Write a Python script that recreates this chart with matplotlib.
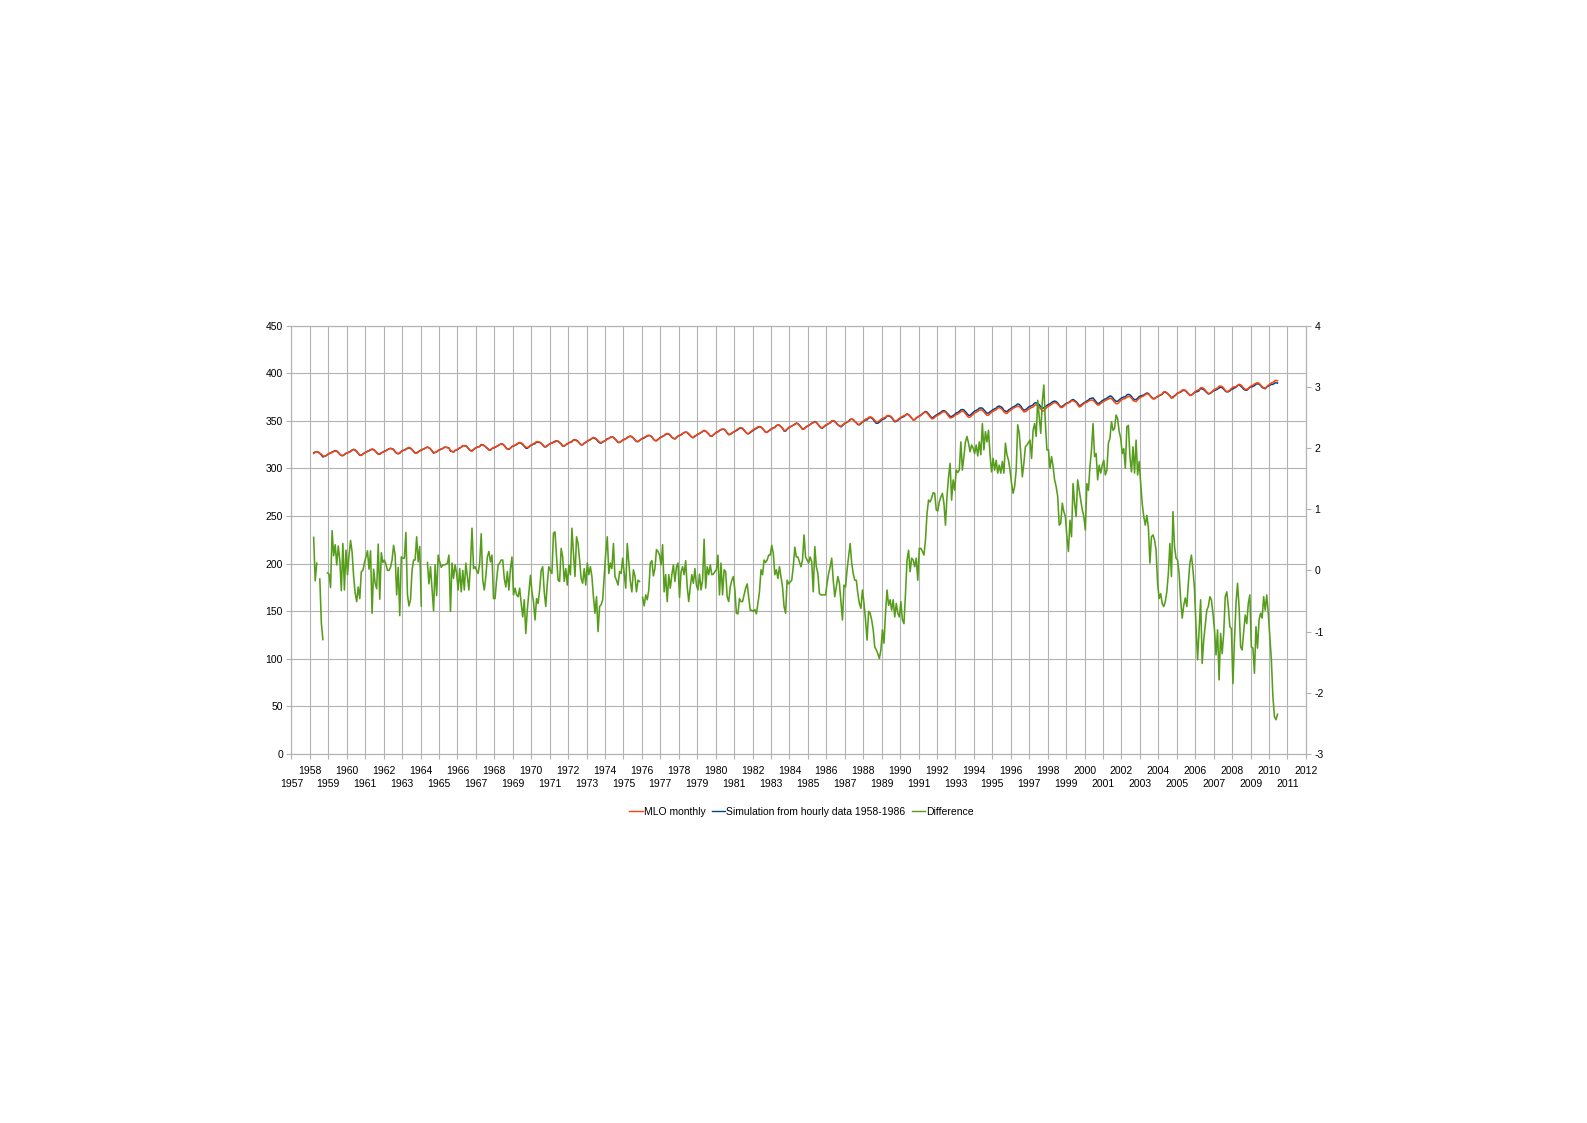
import numpy as np
import matplotlib
matplotlib.use('Agg')
import matplotlib.pyplot as plt

plt.rcParams['font.family'] = ['Liberation Sans', 'DejaVu Sans']
plt.rcParams['axes.unicode_minus'] = False

nan = np.nan

# monthly series, first value = March 1958
first_year, first_month = 1958, 3

mlo_monthly = [
    315.71, 317.45, 317.50, 317.10, 315.86, 314.93, 313.20, 312.66, 313.33, 314.67,
    315.62, 316.38, 316.71, 317.72, 318.29, 318.15, 316.54, 314.80, 313.84, 313.26, 314.80, 315.58,
    316.43, 316.97, 317.58, 319.02, 320.03, 319.59, 318.18, 315.91, 314.16, 313.83, 315.00, 316.19,
    316.93, 317.70, 318.54, 319.48, 320.58, 319.77, 318.57, 316.79, 314.80, 315.38, 316.10, 317.01,
    317.94, 318.56, 319.68, 320.63, 321.01, 320.55, 319.58, 317.40, 316.26, 315.42, 316.69, 317.69,
    318.74, 319.08, 319.86, 321.39, 322.25, 321.47, 319.74, 317.77, 316.21, 315.99, 317.12, 318.31,
    319.57, 320.07, 320.73, 321.77, 322.25, 321.89, 320.44, 318.70, 316.70, 316.79, 317.79, 318.71,
    319.44, 320.44, 320.89, 322.13, 322.16, 321.87, 321.39, 318.81, 317.81, 317.30, 318.87, 319.42,
    320.62, 321.59, 322.39, 323.87, 324.01, 323.75, 322.39, 320.37, 318.64, 318.10, 319.79, 321.08,
    322.07, 322.50, 323.04, 324.42, 325.00, 324.09, 322.55, 320.92, 319.31, 319.31, 320.72, 321.96,
    322.57, 323.15, 323.89, 325.02, 325.57, 325.36, 324.14, 322.03, 320.41, 320.25, 321.31, 322.84,
    324.00, 324.42, 325.64, 326.66, 327.34, 326.76, 325.88, 323.67, 322.38, 321.78, 322.85, 324.11,
    325.03, 325.99, 326.87, 328.13, 328.07, 327.66, 326.35, 324.69, 323.10, 323.16, 323.98, 325.13,
    326.17, 326.68, 327.18, 327.78, 328.92, 328.57, 327.34, 325.46, 323.36, 323.57, 324.80, 326.01,
    326.77, 327.63, 327.75, 329.72, 330.07, 329.09, 328.05, 326.32, 324.93, 325.06, 326.50, 327.55,
    328.54, 329.56, 330.30, 331.50, 332.48, 332.07, 330.87, 329.31, 327.51, 327.18, 328.16, 328.64,
    329.35, 330.71, 331.48, 332.65, 333.09, 332.25, 331.18, 329.40, 327.44, 327.37, 328.46, 329.58,
    330.40, 331.40, 332.04, 333.31, 333.96, 333.59, 331.91, 330.06, 328.56, 328.34, 329.49, 330.76,
    331.75, 332.56, 333.50, 334.58, 334.87, 334.34, 333.05, 330.94, 329.30, 328.94, 330.31, 331.68,
    332.93, 333.42, 334.70, 336.07, 336.74, 336.27, 334.93, 332.75, 331.58, 331.16, 332.40, 333.85,
    334.97, 335.39, 336.64, 337.76, 338.01, 337.89, 336.54, 334.68, 332.76, 332.54, 333.92, 334.95,
    336.23, 336.76, 337.96, 338.89, 339.47, 339.29, 337.73, 336.09, 333.91, 333.86, 335.29, 336.73,
    338.01, 338.36, 340.08, 340.77, 341.46, 341.17, 339.56, 337.60, 335.88, 336.01, 337.10, 338.21,
    339.23, 340.47, 341.38, 342.51, 342.91, 342.25, 340.49, 338.43, 336.69, 336.85, 338.36, 339.61,
    340.75, 341.61, 342.70, 343.56, 344.13, 343.35, 342.06, 339.82, 337.97, 337.86, 339.26, 340.49,
    341.38, 342.52, 343.10, 344.94, 345.75, 345.32, 343.99, 342.39, 339.86, 339.99, 341.16, 342.99,
    343.82, 344.63, 345.38, 346.11, 347.42, 346.80, 345.39, 343.28, 341.07, 341.35, 342.98, 344.22,
    344.97, 345.99, 347.42, 348.35, 348.93, 348.25, 346.56, 344.69, 343.09, 342.80, 344.24, 345.56,
    346.29, 346.96, 347.86, 349.55, 350.21, 349.54, 347.94, 345.91, 344.86, 344.17, 345.66, 346.90,
    348.02, 348.47, 349.42, 350.99, 351.84, 351.25, 349.52, 348.10, 346.44, 346.36, 347.81, 348.96,
    350.43, 351.72, 352.22, 353.59, 354.22, 353.79, 352.39, 350.44, 348.72, 348.88, 350.07, 351.34,
    352.76, 353.07, 353.68, 355.42, 355.67, 355.13, 353.90, 351.67, 349.80, 349.99, 351.30, 352.53,
    353.66, 354.70, 355.39, 356.20, 357.16, 356.22, 354.82, 352.91, 350.96, 351.18, 352.83, 354.21,
    354.72, 355.75, 357.16, 358.60, 359.34, 358.24, 356.17, 354.03, 352.16, 352.21, 353.75, 354.99,
    355.98, 356.72, 357.81, 359.15, 359.66, 359.25, 357.03, 355.00, 353.01, 353.31, 354.16, 355.40,
    356.70, 357.17, 358.38, 359.46, 360.28, 359.60, 357.57, 355.52, 353.70, 353.98, 355.33, 356.80,
    358.36, 358.91, 359.97, 361.26, 361.68, 360.95, 359.55, 357.49, 355.84, 355.99, 357.58, 359.04,
    359.96, 361.00, 361.64, 363.45, 363.79, 363.26, 361.90, 359.46, 358.06, 357.75, 359.56, 360.70,
    362.05, 363.25, 364.03, 364.72, 365.41, 364.97, 363.65, 361.49, 359.46, 359.60, 360.76, 362.33,
    363.18, 364.00, 364.57, 366.35, 366.79, 365.62, 364.47, 362.51, 360.19, 360.77, 362.43, 364.28,
    365.32, 366.15, 367.31, 368.61, 369.29, 368.87, 367.64, 365.77, 363.90, 364.23, 365.46, 366.97,
    368.15, 368.87, 369.59, 371.14, 371.00, 370.35, 369.27, 366.94, 364.63, 365.12, 366.67, 368.01,
    369.14, 369.46, 370.52, 371.66, 371.82, 371.70, 370.12, 368.12, 366.62, 366.73, 368.29, 369.53,
    370.28, 371.50, 372.12, 372.87, 374.02, 373.30, 371.62, 369.55, 367.96, 368.09, 369.68, 371.24,
    372.44, 373.08, 373.52, 374.85, 375.55, 375.40, 374.02, 371.48, 370.71, 370.25, 372.08, 373.78,
    374.68, 375.63, 376.11, 377.65, 378.35, 378.13, 376.62, 374.50, 372.99, 373.00, 374.35, 375.70,
    376.79, 377.37, 378.41, 380.52, 380.63, 379.57, 377.79, 375.86, 374.06, 374.24, 375.86, 377.48,
    378.98, 379.76, 380.83, 382.32, 382.65, 382.14, 380.60, 378.64, 376.73, 376.84, 378.29, 380.06,
    381.40, 382.20, 382.66, 384.69, 384.94, 384.01, 382.14, 380.31, 378.81, 379.03, 380.17, 381.85,
    382.94, 383.86, 384.49, 386.37, 386.54, 385.98, 384.36, 381.85, 380.74, 381.15, 382.38, 383.94,
    385.44, 385.73, 385.97, 387.16, 388.50, 387.88, 386.38, 384.15, 383.07, 382.98, 384.11, 385.54,
    386.92, 387.41, 388.77, 389.46, 390.18, 389.43, 387.74, 385.91, 384.77, 384.38, 385.99, 387.26,
    388.45, 389.82, 390.32, 391.83, 392.67, 392.01,
]

# simulation minus MLO, same months (gaps where MLO had no data)
difference = [
    0.54, -0.17, 0.12, nan, -0.14, -0.86, -1.13, nan, nan, -0.04,
    -0.06, -0.28, 0.65, 0.24, 0.42, 0.09, 0.40, 0.17, -0.33, 0.44, -0.32, 0.33,
    -0.07, 0.25, 0.49, 0.30, -0.10, -0.37, -0.51, -0.27, -0.46, -0.02, 0.0, 0.12,
    0.22, 0.32, 0.02, 0.32, -0.70, 0.02, -0.21, -0.30, 0.43, -0.47, 0.29, 0.13,
    0.17, 0.10, 0.0, 0.0, 0.05, 0.17, 0.41, 0.25, -0.40, 0.05, -0.74, 0.22,
    0.20, 0.20, 0.62, -0.39, -0.58, -0.48, 0.0, 0.17, 0.17, 0.55, 0.14, 0.39,
    -0.58, nan, nan, nan, 0.13, -0.22, 0.06, -0.29, -0.66, 0.09, -0.41, 0.25,
    0.14, 0.05, 0.09, 0.09, 0.10, 0.12, 0.25, -0.67, 0.12, -0.13, 0.09, -0.05,
    -0.32, 0.03, -0.35, 0.0, -0.32, 0.12, -0.10, -0.32, 0.09, 0.69, 0.03, 0.06,
    0.0, -0.05, 0.12, 0.60, -0.16, -0.32, -0.10, 0.22, 0.31, 0.14, 0.25, -0.46,
    -0.46, -0.16, 0.09, 0.12, 0.17, 0.17, -0.13, -0.27, -0.02, -0.32, 0.03, 0.22,
    -0.40, -0.29, -0.40, -0.43, -0.29, -0.54, -0.76, -0.48, -1.03, -0.64, -0.35, -0.08,
    -0.35, -0.51, -0.81, -0.46, -0.54, -0.32, 0.0, 0.06, -0.35, -0.59, -0.21, 0.06,
    0.0, -0.05, 0.61, 0.63, 0.22, -0.16, -0.18, 0.36, 0.22, -0.18, 0.03, -0.24,
    0.09, -0.07, 0.69, 0.28, -0.10, 0.55, 0.44, 0.17, -0.13, -0.21, 0.03, -0.24,
    0.12, -0.07, 0.06, -0.10, -0.43, -0.70, -0.43, -1.0, -0.59, -0.56, -0.48, -0.10,
    0.28, 0.55, -0.05, 0.12, 0.03, 0.44, -0.10, -0.16, -0.24, -0.02, -0.05, 0.20,
    -0.05, -0.29, 0.44, 0.12, -0.18, -0.35, 0.01, -0.09, -0.35, -0.16, -0.18, nan,
    -0.44, -0.58, -0.40, -0.48, -0.32, 0.12, 0.16, -0.09, 0.03, 0.34, 0.31, 0.25,
    0.09, 0.42, -0.35, -0.07, -0.51, -0.07, -0.29, -0.07, 0.09, -0.18, 0.06, 0.12,
    -0.44, -0.02, 0.06, -0.07, 0.16, -0.27, -0.51, -0.27, -0.07, -0.21, 0.03, -0.24,
    -0.32, -0.06, -0.32, -0.16, 0.51, -0.29, 0.06, -0.07, 0.09, -0.07, -0.06, -0.02,
    0.01, 0.25, -0.40, 0.12, -0.40, 0.01, -0.02, -0.43, -0.51, -0.27, -0.16, -0.10,
    -0.32, -0.70, -0.71, -0.46, -0.51, -0.51, -0.40, -0.29, -0.22, -0.43, -0.65, -0.65,
    -0.67, -0.64, -0.71, -0.54, -0.35, 0.01, -0.07, 0.17, 0.13, 0.17, 0.25, 0.25,
    0.41, 0.28, -0.07, 0.01, -0.13, 0.06, -0.10, -0.27, -0.59, -0.70, -0.16, -0.22,
    -0.19, -0.16, 0.06, 0.38, 0.22, 0.22, 0.14, 0.06, 0.17, 0.58, 0.22, 0.17,
    0.12, 0.22, 0.14, -0.35, 0.39, 0.06, -0.05, -0.38, -0.40, -0.40, -0.40, -0.40,
    -0.21, -0.05, 0.06, 0.20, -0.16, -0.43, -0.27, -0.10, -0.21, -0.51, -0.81, -0.24,
    -0.27, 0.01, 0.22, 0.44, 0.12, -0.05, -0.16, -0.16, -0.38, -0.54, -0.62, -0.32,
    -0.54, -0.81, -1.14, -0.67, -0.70, -0.81, -0.97, -1.25, -1.30, -1.36, -1.44, -1.30,
    -0.97, -1.19, -0.70, -0.32, -0.57, -0.48, -0.65, -0.48, -0.76, -0.54, -0.70, -0.76,
    -0.51, -0.81, -0.87, -0.38, 0.17, 0.33, -0.02, 0.20, 0.17, 0.06, 0.20, -0.16,
    0.36, 0.36, 0.31, 0.25, 0.50, 0.93, 1.15, 1.12, 1.18, 1.27, 1.26, 0.99,
    0.97, 1.12, 1.20, 1.26, 1.10, 0.74, 1.21, 1.53, 1.75, 1.15, 1.48, 1.31,
    1.64, 1.60, 1.64, 2.10, 1.64, 1.86, 2.10, 2.19, 2.08, 1.94, 2.05, 2.00,
    1.91, 2.05, 1.87, 2.10, 1.89, 2.40, 1.97, 2.27, 2.10, 2.29, 1.89, 1.61,
    1.83, 1.64, 1.80, 1.59, 1.72, 1.59, 1.78, 1.59, 2.08, 1.89, 1.80, 1.64,
    1.42, 1.26, 1.37, 1.64, 2.38, 2.24, 1.91, 1.53, 1.75, 2.02, 2.05, 2.09,
    2.13, 1.83, 2.29, 2.40, 2.19, 2.78, 2.51, 2.24, 2.76, 3.03, 2.40, 1.97,
    1.97, 1.67, 1.86, 1.70, 1.48, 1.37, 1.21, 0.74, 0.77, 1.10, 0.96, 0.88,
    0.55, 0.31, 0.82, 0.55, 1.42, 1.10, 0.88, 1.48, 1.31, 1.15, 0.99, 0.88,
    0.66, 1.42, 1.31, 1.70, 1.97, 2.40, 1.86, 1.91, 1.48, 1.72, 1.59, 1.72,
    1.80, 1.56, 1.64, 2.08, 2.16, 2.43, 2.29, 2.32, 2.54, 2.48, 2.27, 2.16,
    1.91, 1.99, 1.67, 2.35, 2.37, 1.86, 1.61, 2.02, 1.59, 2.13, 1.56, 1.78,
    1.42, 1.09, 0.88, 0.74, 0.90, 0.70, 0.12, 0.55, 0.58, 0.50, 0.33, -0.21,
    -0.46, -0.38, -0.54, -0.59, -0.51, -0.35, -0.05, 0.44, -0.10, 0.96, 0.39, 0.20,
    0.17, -0.05, -0.48, -0.78, -0.57, -0.45, -0.59, -0.21, 0.12, 0.25, 0.01, -0.30,
    -0.92, -1.46, -0.97, -0.48, -1.52, -1.14, -0.90, -0.65, -0.59, -0.43, -0.48, -0.70,
    -0.97, -1.38, -0.97, -1.79, -1.03, -1.36, -1.03, -0.43, -0.35, -0.59, -0.92, -0.95,
    -1.85, -1.14, -0.54, -0.21, -0.59, -1.25, -1.30, -1.00, -0.73, -0.87, -0.54, -0.40,
    -1.25, -1.27, -1.68, -0.92, -1.27, -0.81, -0.70, -0.78, -0.43, -0.65, -0.40, -0.70,
    -1.08, -1.46, -2.06, -2.39, -2.44, -2.35,
]

even_years = list(range(1958, 2013, 2))   # upper row of year labels
odd_years = list(range(1957, 2012, 2))    # lower row
left_ticks = [0, 50, 100, 150, 200, 250, 300, 350, 400, 450]
right_ticks = [-3, -2, -1, 0, 1, 2, 3, 4]
series_names = ['MLO monthly', 'Simulation from hourly data 1958-1986', 'Difference']
series_colors = ['#ff420e', '#004586', '#579d1c']

mlo = np.array(mlo_monthly)
diff = np.array(difference)
sim = mlo + np.nan_to_num(diff)  # difference = simulation - MLO
t = first_year + (first_month - 1 + np.arange(len(mlo)) + 0.5) / 12

grey = '#b3b3b3'
fs = 7.5

fig = plt.figure(figsize=(15.87, 11.23), dpi=100)
ax = fig.add_axes([0.1836, 0.3286, 0.6393, 0.3814])
ax2 = ax.twinx()

h_sim, = ax.plot(t, sim, color=series_colors[1], lw=1.1, zorder=3)
h_mlo, = ax.plot(t, mlo, color=series_colors[0], lw=1.1, zorder=4)
h_diff, = ax2.plot(t, diff, color=series_colors[2], lw=1.15)

ax.set_xlim(1957, 2012)
ax.set_ylim(0, 450)
ax2.set_ylim(-3, 4)

ax.set_xticks(even_years)
ax.set_xticklabels([str(y) for y in even_years])
ax.set_xticks(odd_years, minor=True)
ax.set_xticklabels([str(y) for y in odd_years], minor=True)
ax.set_yticks(left_ticks)
ax2.set_yticks(right_ticks)

ax.grid(True, which='both', axis='x', color=grey, lw=0.8)
ax.grid(True, which='major', axis='y', color=grey, lw=0.8)
ax.set_axisbelow(True)
for a in (ax, ax2):
    for s in a.spines.values():
        s.set_color(grey)
        s.set_linewidth(0.8)
    a.tick_params(which='both', direction='out', length=3.6, width=0.8, color=grey,
                  labelsize=fs, labelcolor='black')
ax.tick_params(axis='x', which='major', pad=5.0)
ax.tick_params(axis='x', which='minor', pad=14.6)
ax.tick_params(axis='y', pad=2.5)
ax2.tick_params(axis='y', pad=2.5)

fig.legend([h_mlo, h_sim, h_diff], series_names, loc='center',
           bbox_to_anchor=(0.505, 0.2772), ncol=3, frameon=False,
           fontsize=fs, handlelength=1.3, handletextpad=0.1,
           columnspacing=0.6)
for line in fig.legends[0].get_lines():
    line.set_linewidth(1.0)

fig.savefig('out.png', dpi=100)
